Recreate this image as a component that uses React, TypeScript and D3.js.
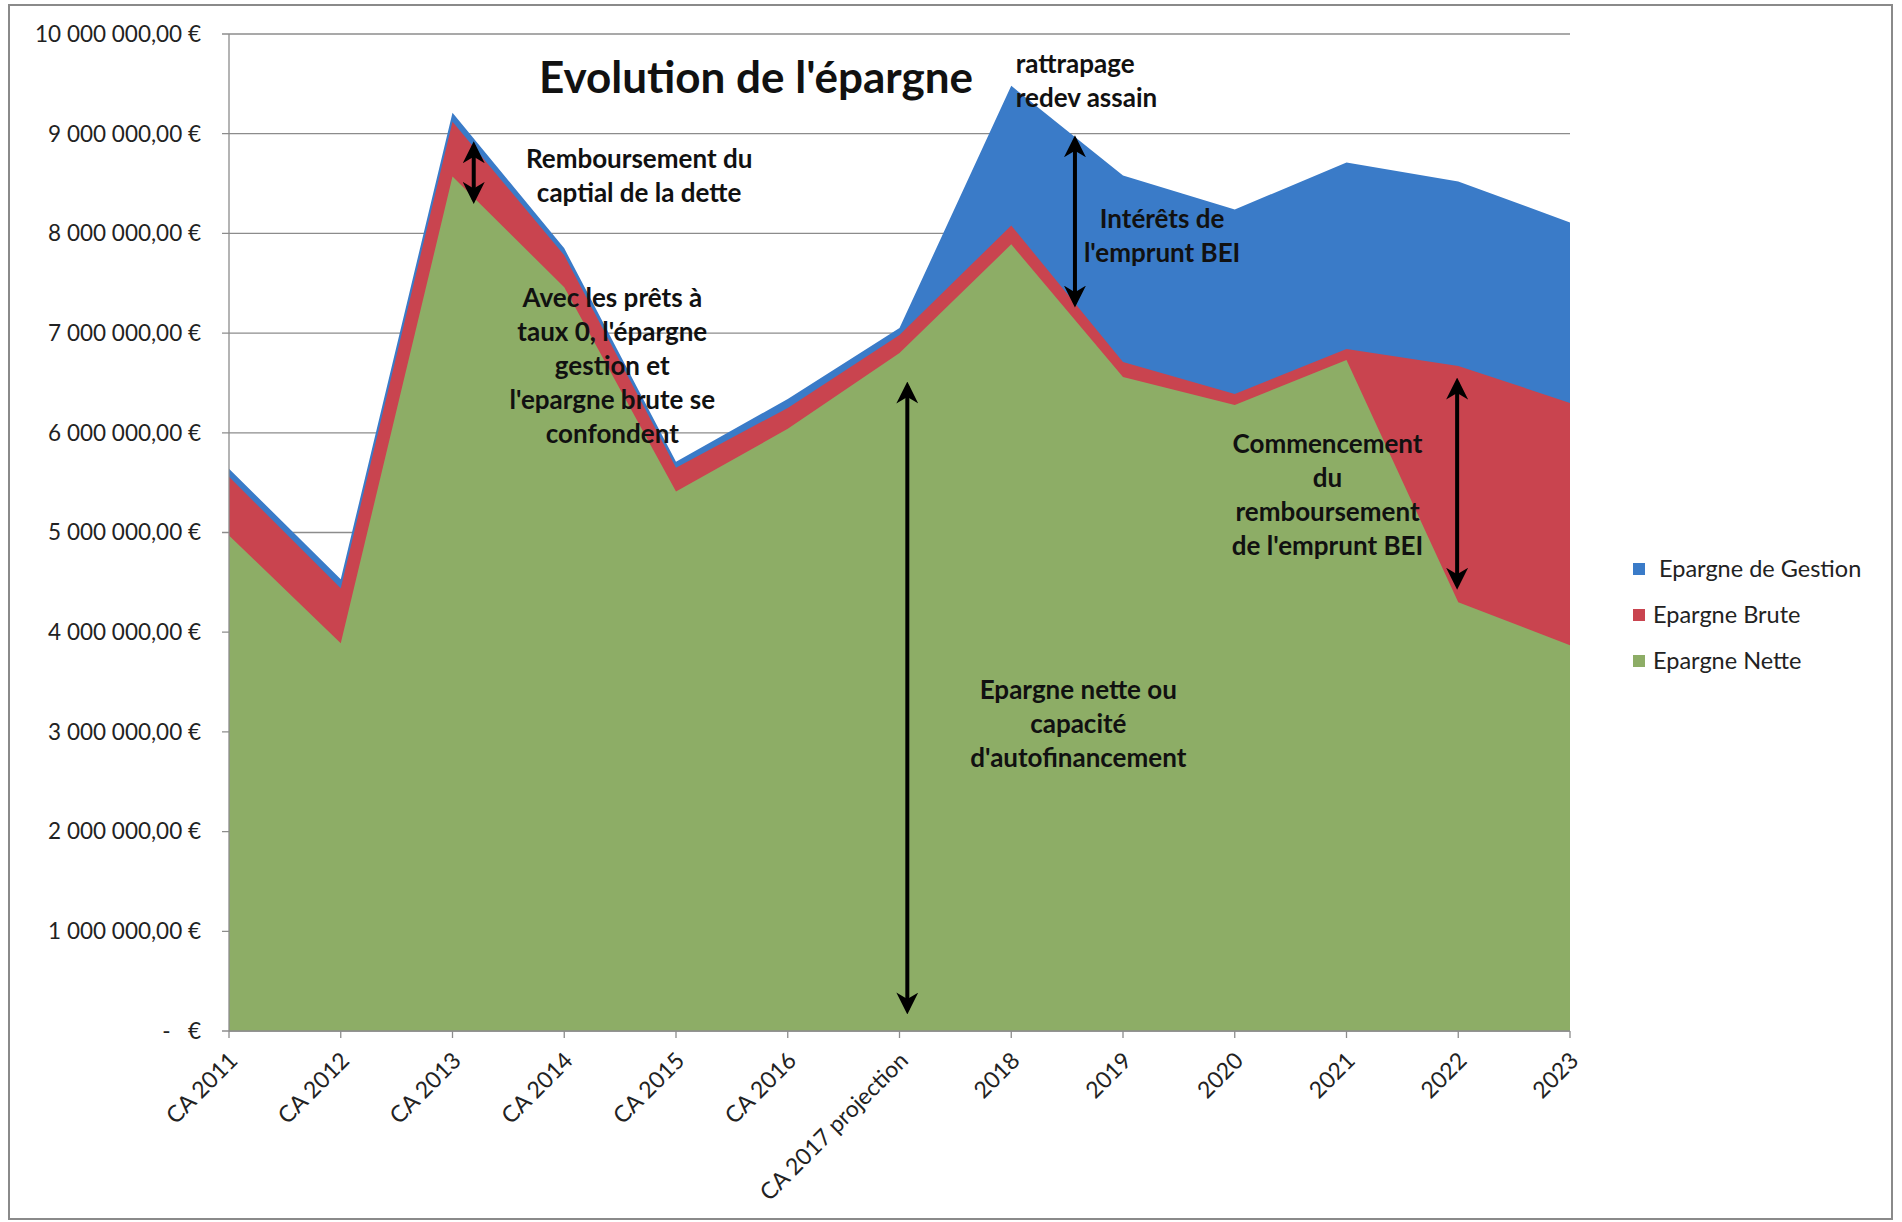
import React from "react";
import * as d3 from "d3";

const categories = [
  "CA 2011", "CA 2012", "CA 2013", "CA 2014", "CA 2015", "CA 2016",
  "CA 2017 projection", "2018", "2019", "2020", "2021", "2022", "2023",
];
const epargneGestion = [5640000, 4530000, 9210000, 7850000, 5710000, 6340000, 7050000, 9480000, 8580000, 8240000, 8710000, 8520000, 8110000];
const epargneBrute = [5560000, 4440000, 9120000, 7780000, 5650000, 6250000, 6980000, 8080000, 6710000, 6390000, 6840000, 6670000, 6300000];
const epargneNette = [4970000, 3890000, 8570000, 7460000, 5410000, 6040000, 6800000, 7890000, 6560000, 6280000, 6730000, 4300000, 3870000];
const yTicks = [0, 1000000, 2000000, 3000000, 4000000, 5000000, 6000000, 7000000, 8000000, 9000000, 10000000];
const yTickLabels = ["-   €", "1 000 000,00 €", "2 000 000,00 €", "3 000 000,00 €", "4 000 000,00 €", "5 000 000,00 €", "6 000 000,00 €", "7 000 000,00 €", "8 000 000,00 €", "9 000 000,00 €", "10 000 000,00 €"];
const seriesNames = ["Epargne de Gestion", "Epargne Brute", "Epargne Nette"];
const seriesColors = ["#3a7bc8", "#c9444f", "#8dad66"];
const title = "Evolution de l'épargne";

// annotations: category index (fractional), value of first line center, alignment
const annotations = [
  { lines: ["Remboursement du", "captial de la dette"], i: 3.67, v: 8750000, anchor: "middle" },
  { lines: ["Avec les prêts à", "taux 0, l'épargne", "gestion et", "l'epargne brute se", "confondent"], i: 3.43, v: 7350000, anchor: "middle" },
  { lines: ["rattrapage", "redev assain"], i: 7.04, v: 9700000, anchor: "start" },
  { lines: ["Intérêts de", "l'emprunt BEI"], i: 8.35, v: 8150000, anchor: "middle" },
  { lines: ["Commencement", "du", "remboursement", "de l'emprunt BEI"], i: 9.83, v: 5890000, anchor: "middle" },
  { lines: ["Epargne nette ou", "capacité", "d'autofinancement"], i: 7.6, v: 3420000, anchor: "middle" },
];
const arrows = [
  { i: 2.19, v1: 8880000, v2: 8340000 },
  { i: 6.07, v1: 6470000, v2: 210000 },
  { i: 7.57, v1: 8940000, v2: 7300000 },
  { i: 10.99, v1: 6510000, v2: 4470000 },
];

const W = 1902;
const H = 1222;
const FONT = "Lato, 'Open Sans', sans-serif";

export default function App() {
  const left = 229, right = 1570, top = 34, bottom = 1031;
  const x = d3.scalePoint<string>().domain(categories).range([left, right]).padding(0);
  const xi = d3.scaleLinear().domain([0, categories.length - 1]).range([left, right]);
  const y = d3.scaleLinear().domain([0, 10000000]).range([bottom, top]);

  const series = [epargneGestion, epargneBrute, epargneNette];
  const area = d3
    .area<number>()
    .x((_, i) => x(categories[i]) as number)
    .y0(y(0))
    .y1((d) => y(d));

  const lineH = 34;

  return (
    <svg width={W} height={H} style={{ position: "absolute", left: 0, top: 0, display: "block" }}>
      <defs>
        <marker id="ah" viewBox="0 0 10 10" refX="8" refY="5" markerWidth="5.5" markerHeight="5.5" orient="auto-start-reverse">
          <path d="M0,0 L10,5 L0,10 L3,5 Z" fill="#000" />
        </marker>
      </defs>
      <rect x={0} y={0} width={W} height={H} fill="#fff" />
      <rect x={9} y={5} width={1883} height={1214} fill="#fff" stroke="#8a8a8a" strokeWidth={2} />

      {/* gridlines */}
      {yTicks.map((t) => (
        <line key={"g" + t} x1={left - 7} x2={right} y1={y(t)} y2={y(t)} stroke="#8c8c8c" strokeWidth={1.3} />
      ))}

      {/* areas */}
      {series.map((s, k) => (
        <path key={"a" + k} d={area(s) as string} fill={seriesColors[k]} />
      ))}

      {/* axes */}
      <line x1={left} x2={left} y1={top} y2={bottom} stroke="#8c8c8c" strokeWidth={1.3} />
      <line x1={left} x2={right} y1={bottom} y2={bottom} stroke="#8c8c8c" strokeWidth={1.3} />
      {categories.map((c) => (
        <line key={"t" + c} x1={x(c)} x2={x(c)} y1={bottom} y2={bottom + 7} stroke="#8c8c8c" strokeWidth={1.3} />
      ))}

      {/* y labels */}
      {yTicks.map((t, k) => (
        <text key={"yl" + t} x={201} y={y(t)} dy="0.35em" textAnchor="end" fontFamily={FONT} fontSize={22.5} fill="#222" style={{ whiteSpace: "pre" }}>
          {yTickLabels[k]}
        </text>
      ))}

      {/* x labels */}
      {categories.map((c) => (
        <text
          key={"xl" + c}
          transform={`translate(${(x(c) as number) + 10},${bottom + 31}) rotate(-45)`}
          textAnchor="end"
          fontFamily={FONT}
          fontSize={23}
          fill="#222"
        >
          {c}
        </text>
      ))}

      {/* title */}
      <text x={756} y={78} dy="0.35em" textAnchor="middle" fontFamily={FONT} fontWeight="bold" fontSize={44} fill="#111">
        {title}
      </text>

      {/* annotations */}
      {annotations.map((a, k) => (
        <text key={"an" + k} fontFamily={FONT} fontWeight="bold" fontSize={26} fill="#111" textAnchor={a.anchor as any}>
          {a.lines.map((l, j) => (
            <tspan key={j} x={xi(a.i)} y={y(a.v) + j * lineH} dy="0.35em">
              {l}
            </tspan>
          ))}
        </text>
      ))}

      {/* arrows */}
      {arrows.map((a, k) => (
        <line
          key={"ar" + k}
          x1={xi(a.i)}
          x2={xi(a.i)}
          y1={y(a.v1)}
          y2={y(a.v2)}
          stroke="#000"
          strokeWidth={4}
          markerStart="url(#ah)"
          markerEnd="url(#ah)"
        />
      ))}

      {/* legend */}
      {seriesNames.map((n, k) => (
        <g key={"lg" + k}>
          <rect x={1633} y={563 + k * 46} width={12} height={12} fill={seriesColors[k]} />
          <text x={k === 0 ? 1659 : 1653} y={569 + k * 46} dy="0.35em" fontFamily={FONT} fontSize={23.5} fill="#222">
            {n}
          </text>
        </g>
      ))}
    </svg>
  );
}
